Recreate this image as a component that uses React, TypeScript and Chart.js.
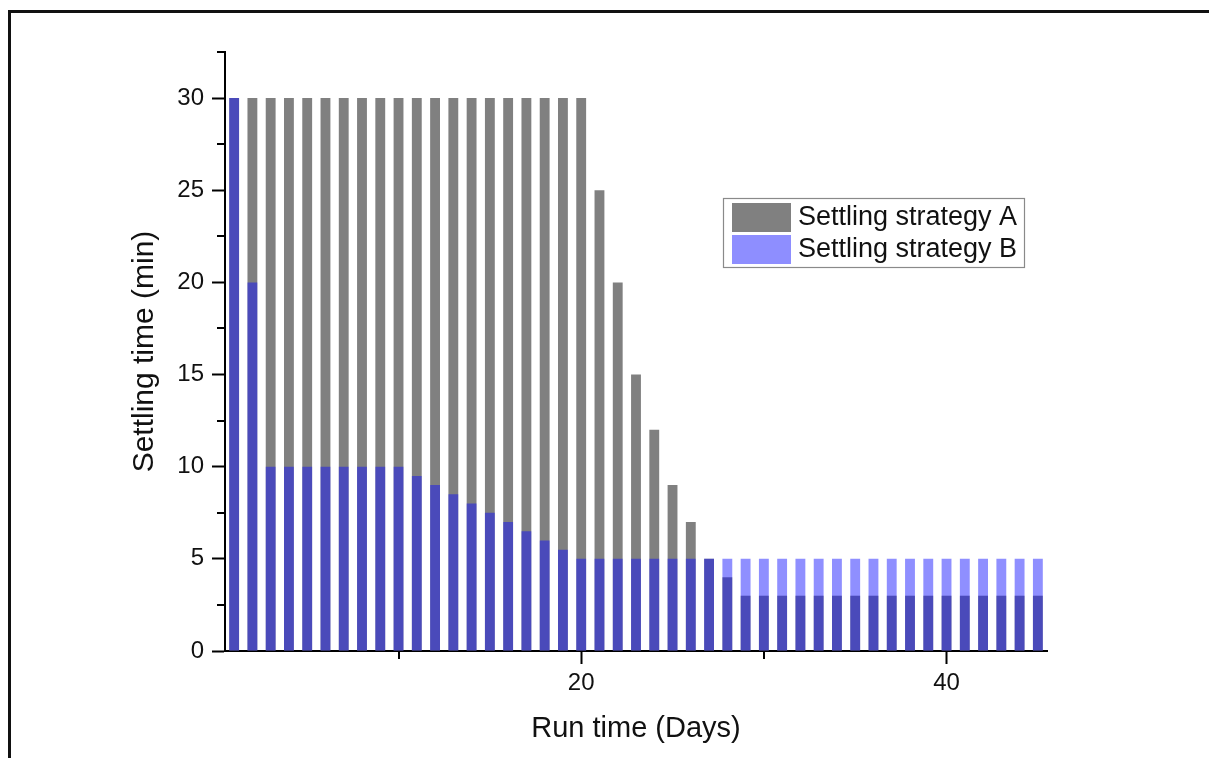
import React, { useEffect, useRef } from "react";
import { Chart, registerables } from "chart.js";

Chart.register(...registerables);

const FONT = "'Liberation Sans', Arial, Helvetica, sans-serif";

const days = [
  1, 2, 3, 4, 5, 6, 7, 8, 9, 10, 11, 12, 13, 14, 15, 16, 17, 18, 19, 20, 21, 22,
  23, 24, 25, 26, 27, 28, 29, 30, 31, 32, 33, 34, 35, 36, 37, 38, 39, 40, 41, 42,
  43, 44, 45,
];

const strategyA = [
  30, 30, 30, 30, 30, 30, 30, 30, 30, 30, 30, 30, 30, 30, 30, 30, 30, 30, 30, 30,
  25, 20, 15, 12, 9, 7, 5, 4, 3, 3, 3, 3, 3, 3, 3, 3, 3, 3, 3, 3, 3, 3, 3, 3, 3,
];

const strategyB = [
  30, 20, 10, 10, 10, 10, 10, 10, 10, 10, 9.5, 9, 8.5, 8, 7.5, 7, 6.5, 6, 5.5, 5,
  5, 5, 5, 5, 5, 5, 5, 5, 5, 5, 5, 5, 5, 5, 5, 5, 5, 5, 5, 5, 5, 5, 5, 5, 5,
];

const seriesLabels = ["Settling strategy A", "Settling strategy B"];

const xMajorTicks = [20, 40];
const xMinorTicks = [10, 30];
const yMajorTicks = [0, 5, 10, 15, 20, 25, 30];
const yMinorTicks = [2.5, 7.5, 12.5, 17.5, 22.5, 27.5, 32.5];

const colorA = "#808080";
const colorB = "rgba(10, 10, 255, 0.46)";
const legendColorB = "#8e8eff";

const minorTicksPlugin = {
  id: "minorTicks",
  afterDraw(chart: any) {
    const { ctx, chartArea, scales } = chart;
    ctx.save();
    ctx.strokeStyle = "#000";
    ctx.lineWidth = 2;
    ctx.beginPath();
    xMinorTicks.forEach((v) => {
      const px = Math.round(scales.x.getPixelForValue(v));
      ctx.moveTo(px, chartArea.bottom);
      ctx.lineTo(px, chartArea.bottom + 8);
    });
    yMinorTicks.forEach((v) => {
      const py = Math.round(scales.y.getPixelForValue(v));
      ctx.moveTo(chartArea.left - 8, py);
      ctx.lineTo(chartArea.left, py);
    });
    ctx.stroke();
    ctx.restore();
  },
};

const legendPlugin = {
  id: "boxLegend",
  afterDraw(chart: any) {
    const { ctx } = chart;
    const boxX = 723;
    const boxY = 198;
    const boxW = 301;
    const boxH = 69;
    ctx.save();
    ctx.fillStyle = "#fff";
    ctx.fillRect(boxX, boxY, boxW, boxH);
    ctx.strokeStyle = "#8a8a8a";
    ctx.lineWidth = 1.2;
    ctx.strokeRect(boxX + 0.5, boxY + 0.5, boxW, boxH);
    const swatches = [colorA, legendColorB];
    ctx.font = `27px ${FONT}`;
    ctx.textBaseline = "middle";
    ctx.textAlign = "left";
    seriesLabels.forEach((label, i) => {
      const y = boxY + 5 + i * 32;
      ctx.fillStyle = swatches[i];
      ctx.fillRect(boxX + 9, y, 59, 29);
      ctx.fillStyle = "#111";
      ctx.fillText(label, boxX + 75, y + 15);
    });
    ctx.restore();
  },
};

export default function App() {
  const ref = useRef<HTMLCanvasElement>(null);

  useEffect(() => {
    const chart = new Chart(ref.current as HTMLCanvasElement, {
      type: "bar",
      data: {
        datasets: [
          {
            label: seriesLabels[0],
            data: days.map((d, i) => ({ x: d, y: strategyA[i] })),
            backgroundColor: colorA,
            borderWidth: 0,
            grouped: false,
            order: 2,
            barPercentage: 0.54,
            categoryPercentage: 1,
          } as any,
          {
            label: seriesLabels[1],
            data: days.map((d, i) => ({ x: d, y: strategyB[i] })),
            backgroundColor: colorB,
            borderWidth: 0,
            grouped: false,
            order: 1,
            barPercentage: 0.54,
            categoryPercentage: 1,
          } as any,
        ],
      },
      options: {
        responsive: false,
        maintainAspectRatio: false,
        devicePixelRatio: 1,
        animation: false,
        layout: { padding: { left: 0, right: 162, top: 52, bottom: 0 } },
        plugins: {
          legend: { display: false },
          tooltip: { enabled: false },
        },
        scales: {
          x: {
            type: "linear",
            min: 0.5,
            max: 45.5,
            offset: false,
            afterBuildTicks: (s: any) => {
              s.ticks = xMajorTicks.map((v) => ({ value: v }));
            },
            afterFit: (s: any) => {
              s.height = 107;
            },
            grid: {
              drawOnChartArea: false,
              offset: false,
              drawTicks: true,
              tickLength: 13,
              tickWidth: 2,
              tickColor: "#000",
            },
            border: { display: true, width: 2, color: "#000" },
            ticks: {
              font: { family: FONT, size: 24 },
              color: "#111",
              padding: 5,
              maxRotation: 0,
              autoSkip: false,
            },
            title: {
              display: true,
              text: "Run time (Days)",
              font: { family: FONT, size: 29 },
              color: "#111",
              padding: { top: 0, bottom: 12 },
            },
          },
          y: {
            type: "linear",
            min: 0,
            max: 32.5,
            afterBuildTicks: (s: any) => {
              s.ticks = yMajorTicks.map((v) => ({ value: v }));
            },
            afterFit: (s: any) => {
              s.width = 225;
            },
            grid: {
              drawOnChartArea: false,
              drawTicks: true,
              tickLength: 13,
              tickWidth: 2,
              tickColor: "#000",
            },
            border: { display: true, width: 2, color: "#000" },
            ticks: {
              font: { family: FONT, size: 24 },
              color: "#111",
              padding: 8,
            },
            title: {
              display: true,
              text: "Settling time (min)",
              font: { family: FONT, size: 30 },
              color: "#111",
              padding: { top: 127, bottom: 0 },
            },
          },
        },
      } as any,
      plugins: [minorTicksPlugin, legendPlugin],
    });
    return () => chart.destroy();
  }, []);

  return (
    <div
      style={{
        position: "fixed",
        left: 0,
        top: 0,
        width: 1209,
        height: 758,
        background: "#fff",
        overflow: "hidden",
      }}
    >
      <canvas
        ref={ref}
        width={1209}
        height={758}
        style={{ position: "absolute", left: 0, top: 0, width: 1209, height: 758 }}
      />
      <div
        style={{
          position: "absolute",
          left: 8,
          top: 10,
          width: 1201,
          height: 748,
          borderLeft: "3px solid #111",
          borderTop: "3px solid #111",
          boxSizing: "border-box",
          pointerEvents: "none",
        }}
      />
    </div>
  );
}
